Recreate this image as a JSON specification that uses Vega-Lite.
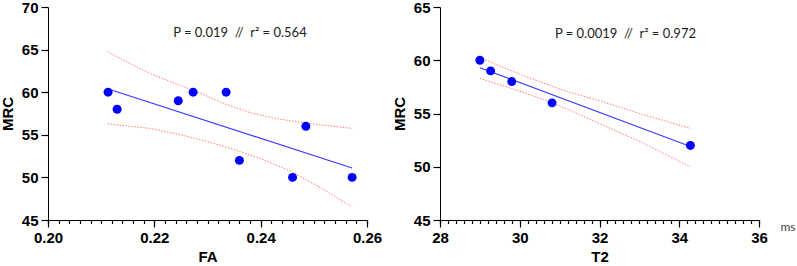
{
  "$schema": "https://vega.github.io/schema/vega-lite/v6.json",
  "background": "white",
  "padding": {"left": 0, "top": 0, "right": 0, "bottom": 0},
  "spacing": 10,
  "config": {
    "view": {"stroke": null},
    "axis": {
      "domainColor": "black", "tickColor": "black", "labelColor": "black", "titleColor": "black",
      "labelFont": "Liberation Sans", "titleFont": "Liberation Sans",
      "labelFontWeight": "bold", "titleFontWeight": "bold",
      "labelFontSize": 15, "titleFontSize": 15, "labelFlush": false,
      "grid": false, "ticks": true, "domainWidth": 1, "tickWidth": 1.2
    }
  },
  "datasets": {
    "fa": [
      {"kind": "point", "FA": 0.2113, "MRC": 60},
      {"kind": "point", "FA": 0.2130, "MRC": 58},
      {"kind": "point", "FA": 0.2245, "MRC": 59},
      {"kind": "point", "FA": 0.2273, "MRC": 60},
      {"kind": "point", "FA": 0.2335, "MRC": 60},
      {"kind": "point", "FA": 0.2360, "MRC": 52},
      {"kind": "point", "FA": 0.2460, "MRC": 50},
      {"kind": "point", "FA": 0.2485, "MRC": 56},
      {"kind": "point", "FA": 0.2572, "MRC": 50},
      {"kind": "fit", "FA": 0.2112, "MRC": 60.4},
      {"kind": "fit", "FA": 0.2572, "MRC": 51.1},
      {"kind": "upper", "FA": 0.2112, "MRC": 64.75},
      {"kind": "upper", "FA": 0.2150, "MRC": 63.5},
      {"kind": "upper", "FA": 0.2192, "MRC": 62.2},
      {"kind": "upper", "FA": 0.2240, "MRC": 61.0},
      {"kind": "upper", "FA": 0.2286, "MRC": 59.9},
      {"kind": "upper", "FA": 0.2330, "MRC": 58.7},
      {"kind": "upper", "FA": 0.2380, "MRC": 57.6},
      {"kind": "upper", "FA": 0.2430, "MRC": 56.9},
      {"kind": "upper", "FA": 0.2487, "MRC": 56.35},
      {"kind": "upper", "FA": 0.2572, "MRC": 55.75},
      {"kind": "lower", "FA": 0.2112, "MRC": 56.3},
      {"kind": "lower", "FA": 0.2192, "MRC": 55.75},
      {"kind": "lower", "FA": 0.2250, "MRC": 55.0},
      {"kind": "lower", "FA": 0.2300, "MRC": 54.2},
      {"kind": "lower", "FA": 0.2349, "MRC": 53.3},
      {"kind": "lower", "FA": 0.2400, "MRC": 52.2},
      {"kind": "lower", "FA": 0.2458, "MRC": 50.7},
      {"kind": "lower", "FA": 0.2515, "MRC": 48.7},
      {"kind": "lower", "FA": 0.2572, "MRC": 46.55}
    ],
    "t2": [
      {"kind": "point", "T2": 29.0, "MRC": 60},
      {"kind": "point", "T2": 29.27, "MRC": 59},
      {"kind": "point", "T2": 29.8, "MRC": 58},
      {"kind": "point", "T2": 30.81, "MRC": 56},
      {"kind": "point", "T2": 34.28, "MRC": 52},
      {"kind": "fit", "T2": 29.0, "MRC": 59.3},
      {"kind": "fit", "T2": 34.28, "MRC": 51.9},
      {"kind": "upper", "T2": 29.0, "MRC": 60.25},
      {"kind": "upper", "T2": 29.5, "MRC": 59.45},
      {"kind": "upper", "T2": 30.0, "MRC": 58.7},
      {"kind": "upper", "T2": 30.6, "MRC": 57.85},
      {"kind": "upper", "T2": 31.2, "MRC": 57.05},
      {"kind": "upper", "T2": 32.0, "MRC": 56.2},
      {"kind": "upper", "T2": 33.0, "MRC": 55.0},
      {"kind": "upper", "T2": 34.28, "MRC": 53.6},
      {"kind": "lower", "T2": 29.0, "MRC": 58.3},
      {"kind": "lower", "T2": 29.5, "MRC": 57.7},
      {"kind": "lower", "T2": 30.0, "MRC": 57.1},
      {"kind": "lower", "T2": 30.6, "MRC": 56.3},
      {"kind": "lower", "T2": 31.2, "MRC": 55.4},
      {"kind": "lower", "T2": 32.0, "MRC": 54.05},
      {"kind": "lower", "T2": 33.0, "MRC": 52.4},
      {"kind": "lower", "T2": 34.28, "MRC": 50.0}
    ]
  },
  "hconcat": [
    {
      "width": 319,
      "height": 213,
      "data": {"name": "fa"},
      "resolve": {"axis": {"x": "independent"}},
      "layer": [
        {
          "transform": [{"filter": "datum.kind === 'upper' || datum.kind === 'lower'"}],
          "mark": {"type": "line", "color": "#ff7a7a", "strokeWidth": 1, "strokeDash": [1.5, 1.5]},
          "encoding": {
            "x": {"field": "FA", "type": "quantitative",
              "scale": {"domain": [0.2, 0.26], "nice": false, "zero": false},
              "axis": {"orient": "bottom", "values": [0.2, 0.22, 0.24, 0.26], "format": ".2f", "tickSize": 7, "labelPadding": 3, "title": "FA", "titlePadding": 4}},
            "y": {"field": "MRC", "type": "quantitative",
              "scale": {"domain": [45, 70], "nice": false, "zero": false},
              "axis": {"values": [45, 50, 55, 60, 65, 70], "tickSize": 7, "labelPadding": 3, "title": "MRC", "titlePadding": 6}},
            "detail": {"field": "kind"}
          }
        },
        {
          "transform": [{"filter": "datum.kind === 'fit'"}],
          "mark": {"type": "line", "color": "#3a3aff", "strokeWidth": 1.2},
          "encoding": {
            "x": {"field": "FA", "type": "quantitative",
              "scale": {"domain": [0.2, 0.26], "nice": false, "zero": false},
              "axis": {"orient": "bottom", "values": [0.2, 0.202, 0.204, 0.206, 0.208, 0.21, 0.212, 0.214, 0.216, 0.218, 0.22, 0.222, 0.224, 0.226, 0.228, 0.23, 0.232, 0.234, 0.236, 0.238, 0.24, 0.242, 0.244, 0.246, 0.248, 0.25, 0.252, 0.254, 0.256, 0.258, 0.26], "labels": false, "domain": false, "tickSize": 3.5, "title": null}},
            "y": {"field": "MRC", "type": "quantitative"}
          }
        },
        {
          "transform": [{"filter": "datum.kind === 'point'"}],
          "mark": {"type": "circle", "color": "#0000ff", "opacity": 1, "size": 80},
          "encoding": {
            "x": {"field": "FA", "type": "quantitative", "axis": null},
            "y": {"field": "MRC", "type": "quantitative"}
          }
        },
        {
          "data": {"values": [{"label": "P = 0.019\u00a0\u00a0//\u00a0\u00a0r² = 0.564"}]},
          "mark": {"type": "text", "font": "Lato", "fontSize": 13, "color": "#222222", "align": "center", "baseline": "middle"},
          "encoding": {
            "x": {"datum": 0.2361, "type": "quantitative", "axis": null},
            "y": {"datum": 66.95, "type": "quantitative"},
            "text": {"field": "label"}
          }
        }
      ]
    },
    {
      "width": 319,
      "height": 213,
      "data": {"name": "t2"},
      "resolve": {"axis": {"x": "independent"}},
      "layer": [
        {
          "transform": [{"filter": "datum.kind === 'upper' || datum.kind === 'lower'"}],
          "mark": {"type": "line", "color": "#ff7a7a", "strokeWidth": 1, "strokeDash": [1.5, 1.5]},
          "encoding": {
            "x": {"field": "T2", "type": "quantitative",
              "scale": {"domain": [28, 36], "nice": false, "zero": false},
              "axis": {"orient": "bottom", "values": [28, 30, 32, 34, 36], "format": "d", "tickSize": 7, "labelPadding": 3, "title": "T2", "titlePadding": 4}},
            "y": {"field": "MRC", "type": "quantitative",
              "scale": {"domain": [45, 65], "nice": false, "zero": false},
              "axis": {"values": [45, 50, 55, 60, 65], "tickSize": 7, "labelPadding": 3, "title": "MRC", "titlePadding": 6}},
            "detail": {"field": "kind"}
          }
        },
        {
          "transform": [{"filter": "datum.kind === 'fit'"}],
          "mark": {"type": "line", "color": "#3a3aff", "strokeWidth": 1.2},
          "encoding": {
            "x": {"field": "T2", "type": "quantitative",
              "scale": {"domain": [28, 36], "nice": false, "zero": false},
              "axis": {"orient": "bottom", "values": [28, 28.2, 28.4, 28.6, 28.8, 29, 29.2, 29.4, 29.6, 29.8, 30, 30.2, 30.4, 30.6, 30.8, 31, 31.2, 31.4, 31.6, 31.8, 32, 32.2, 32.4, 32.6, 32.8, 33, 33.2, 33.4, 33.6, 33.8, 34, 34.2, 34.4, 34.6, 34.8, 35, 35.2, 35.4, 35.6, 35.8, 36], "labels": false, "domain": false, "tickSize": 3.5,
                "title": "ms", "titleFont": "Lato", "titleFontWeight": "normal", "titleFontSize": 12, "titleColor": "#444444",
                "titleAnchor": "start", "titleAlign": "left", "titleBaseline": "middle", "titleX": 340, "titleY": 6}},
            "y": {"field": "MRC", "type": "quantitative"}
          }
        },
        {
          "transform": [{"filter": "datum.kind === 'point'"}],
          "mark": {"type": "circle", "color": "#0000ff", "opacity": 1, "size": 80},
          "encoding": {
            "x": {"field": "T2", "type": "quantitative", "axis": null},
            "y": {"field": "MRC", "type": "quantitative"}
          }
        },
        {
          "data": {"values": [{"label": "P = 0.0019\u00a0\u00a0//\u00a0\u00a0r² = 0.972"}]},
          "mark": {"type": "text", "font": "Lato", "fontSize": 13, "color": "#222222", "align": "center", "baseline": "middle"},
          "encoding": {
            "x": {"datum": 32.65, "type": "quantitative", "axis": null},
            "y": {"datum": 62.5, "type": "quantitative"},
            "text": {"field": "label"}
          }
        }
      ]
    }
  ]
}
